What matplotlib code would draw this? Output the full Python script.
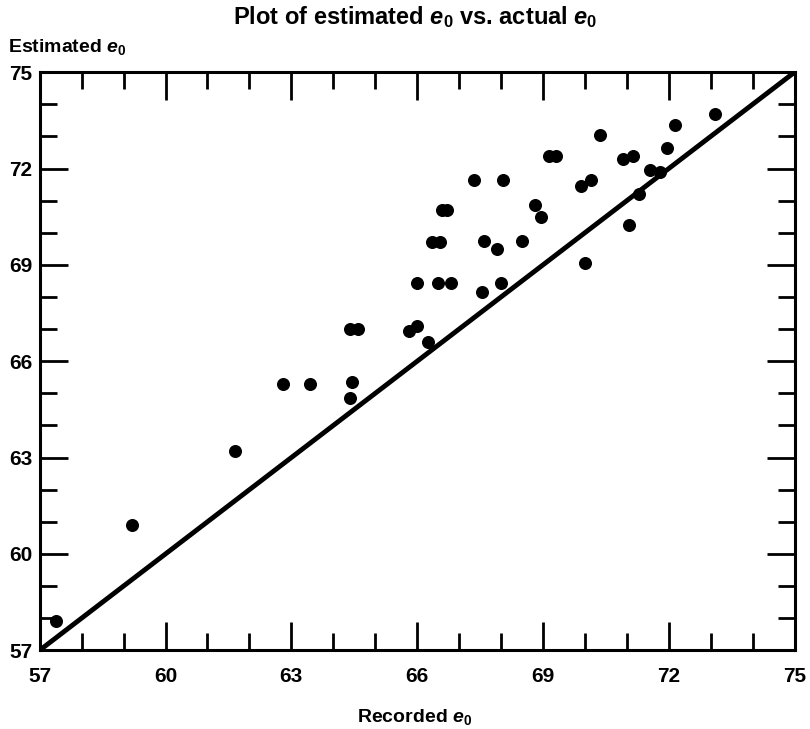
import matplotlib.pyplot as plt
from matplotlib.ticker import MultipleLocator

plt.rcParams['font.family'] = ['Liberation Sans Narrow', 'Liberation Sans', 'DejaVu Sans']
plt.rcParams['font.weight'] = 'bold'
plt.rcParams['mathtext.fontset'] = 'custom'
plt.rcParams['mathtext.it'] = 'Liberation Sans:italic:bold'
plt.rcParams['mathtext.rm'] = 'Liberation Sans:bold'

# recorded vs estimated life expectancy
recorded = [57.4, 59.2, 61.65, 62.8, 63.45, 64.4, 64.6, 64.45, 64.4, 65.8,
            66.0, 66.25, 66.0, 66.5, 66.8, 66.35, 66.55, 66.6, 66.7, 67.35,
            67.55, 67.6, 67.9, 68.0, 68.05, 68.5, 68.8, 68.95, 69.15, 69.3,
            69.9, 70.0, 70.15, 70.35, 70.9, 71.05, 71.15, 71.3, 71.55, 71.8,
            71.95, 72.15, 73.1]
estimated = [57.9, 60.9, 63.2, 65.3, 65.3, 67.0, 67.0, 65.35, 64.85, 66.95,
             67.1, 66.6, 68.45, 68.45, 68.45, 69.7, 69.7, 70.7, 70.7, 71.65,
             68.15, 69.75, 69.5, 68.45, 71.65, 69.75, 70.85, 70.5, 72.4, 72.4,
             71.45, 69.05, 71.65, 73.05, 72.3, 70.25, 72.4, 71.2, 71.95, 71.9,
             72.65, 73.35, 73.7]
diag = [57, 75]
ticks = [57, 60, 63, 66, 69, 72, 75]

fig = plt.figure(figsize=(8.1, 7.29), dpi=100)
ax = fig.add_axes([0.049, 0.108, 0.932, 0.793])

ax.plot(diag, diag, color='black', linewidth=3.5, solid_capstyle='butt')
ax.scatter(recorded, estimated, s=70, color='black', zorder=3, clip_on=False)

ax.set_xlim(57, 75)
ax.set_ylim(57, 75)
ax.set_xticks(ticks)
ax.set_yticks(ticks)
ax.xaxis.set_minor_locator(MultipleLocator(1))
ax.yaxis.set_minor_locator(MultipleLocator(1))
ax.tick_params(which='both', direction='in', top=True, right=True, width=2, labelsize=15)
ax.tick_params(axis='x', which='major', length=20, pad=12)
ax.tick_params(axis='y', which='major', length=20, pad=5)
ax.tick_params(which='minor', length=12)
for lab in ax.get_xticklabels() + ax.get_yticklabels():
    lab.set_fontweight('bold')
for sp in ax.spines.values():
    sp.set_linewidth(2.2)

fig.text(0.512, 0.976, r'Plot of estimated $e_0$ vs. actual $e_0$', ha='center', va='center',
         fontsize=17, fontweight='bold')
fig.text(0.01, 0.935, r'Estimated $e_0$', ha='left', va='center', fontsize=14, fontweight='bold')
fig.text(0.512, 0.016, r'Recorded $e_0$', ha='center', va='center', fontsize=14, fontweight='bold')

fig.savefig('out.png', dpi=100)
